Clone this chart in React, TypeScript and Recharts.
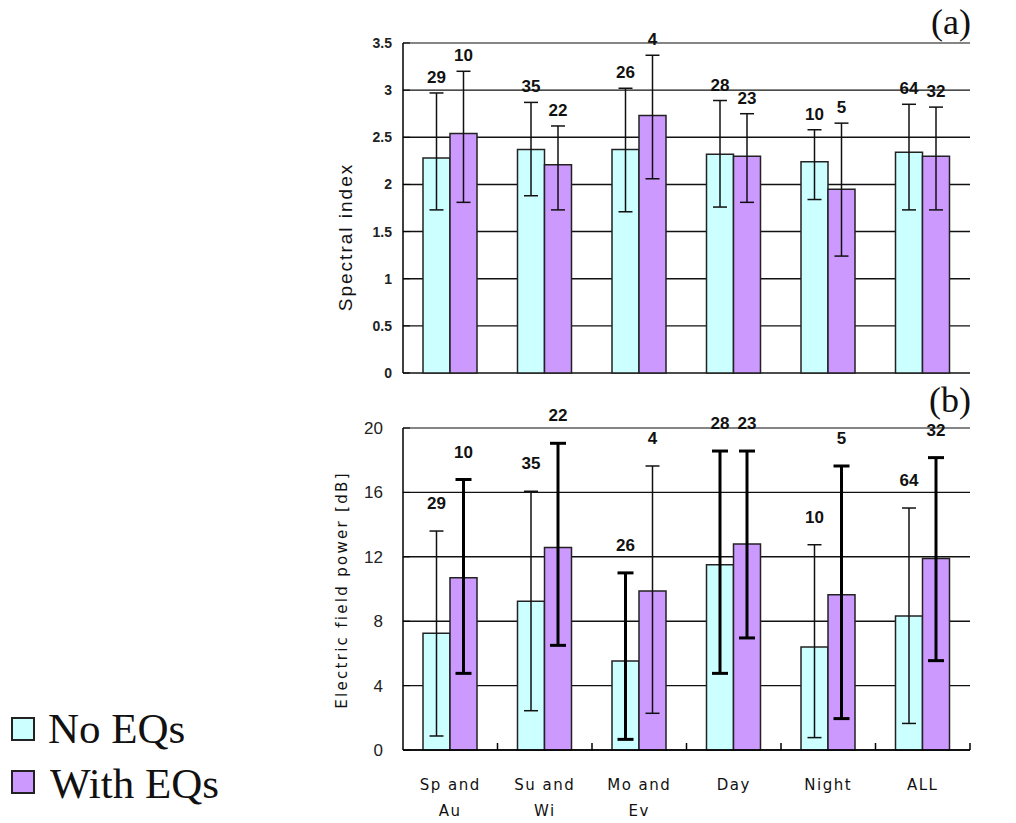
import React from 'react';
import {
  BarChart,
  Bar,
  XAxis,
  YAxis,
  CartesianGrid,
  ErrorBar,
  LabelList,
  ReferenceLine,
} from 'recharts';

const categories = ['Sp and\nAu', 'Su and\nWi', 'Mo and\nEv', 'Day', 'Night', 'ALL'];

// number of events per group
const countNo = [29, 35, 26, 28, 10, 64];
const countWith = [10, 22, 4, 23, 5, 32];

// (a) spectral index: mean, lower and upper end of the error bar
const specNo = [2.28, 2.37, 2.37, 2.32, 2.24, 2.34];
const specNoLo = [1.73, 1.88, 1.71, 1.76, 1.84, 1.73];
const specNoHi = [2.97, 2.87, 3.02, 2.89, 2.58, 2.85];
const specWith = [2.54, 2.21, 2.73, 2.3, 1.95, 2.3];
const specWithLo = [1.81, 1.73, 2.06, 1.81, 1.24, 1.73];
const specWithHi = [3.2, 2.62, 3.37, 2.75, 2.65, 2.82];

// (b) electric field power [dB]
const powerNo = [7.25, 9.24, 5.53, 11.5, 6.4, 8.32];
const powerNoLo = [0.87, 2.44, 0.66, 4.76, 0.77, 1.65];
const powerNoHi = [13.6, 16.07, 11.0, 18.57, 12.75, 15.03];
const powerWith = [10.7, 12.57, 9.88, 12.8, 9.65, 11.9];
const powerWithLo = [4.76, 6.5, 2.28, 6.96, 1.95, 5.55];
const powerWithHi = [16.8, 19.05, 17.64, 18.57, 17.64, 18.16];

const specTicks = [0, 0.5, 1, 1.5, 2, 2.5, 3, 3.5];
const powerTicks = [0, 4, 8, 12, 16, 20];

// groups whose error bars are drawn heavy in (b)
const heavyNo = [2, 3];
const heavyWith = [0, 1, 3, 4, 5];

const CYAN = '#CCFFFF';
const PURPLE = '#CC99FF';
const SANS = '"Liberation Sans", Arial, sans-serif';
const GOTHIC = '"DejaVu Sans", sans-serif';
const SERIF = '"Liberation Serif", "Times New Roman", serif';

const CHART_W = 1016;
const LEFT = 363;
const YW = 40;
const RIGHT = 46;
const BAND = (CHART_W - LEFT - YW - RIGHT) / categories.length;

const makeRows = (no: number[], noLo: number[], noHi: number[], w: number[], wLo: number[], wHi: number[]) =>
  categories.map((name, i) => ({
    name,
    idx: i,
    no: no[i],
    with: w[i],
    noErr: [no[i] - noLo[i], noHi[i] - no[i]],
    withErr: [w[i] - wLo[i], wHi[i] - w[i]],
  }));

const specRows = makeRows(specNo, specNoLo, specNoHi, specWith, specWithLo, specWithHi);
const powerRows = makeRows(powerNo, powerNoLo, powerNoHi, powerWith, powerWithLo, powerWithHi);

// category tick: group name below the axis, short inward tick at the group's right edge
const GroupTick = ({ x, y, payload, showNames }: any) => {
  const edge = x + BAND / 2;
  const lines = String(payload.value).split('\n');
  return (
    <g>
      <line x1={edge} x2={edge} y1={y} y2={y - 7} stroke="#000" strokeWidth={1.5} />
      {showNames && (
        <text x={x} y={y + 40} textAnchor="middle" fontFamily={GOTHIC} fontSize={15} letterSpacing={1.5} fill="#111">
          {lines.map((l, k) => (
            <tspan key={k} x={x} dy={k ? 26 : 0}>
              {l}
            </tspan>
          ))}
        </text>
      )}
    </g>
  );
};

const countLabel =
  (counts: number[], vals: number[], his: number[], lift: number, weight: number) => (props: any) => {
    const vb = props.viewBox || props;
    const { x, y, width, height } = vb;
    const i = props.index;
    const base = y + height;
    const errTop = base - (his[i] * height) / vals[i];
    return (
      <text
        x={x + width / 2}
        y={errTop - lift}
        textAnchor="middle"
        fontFamily={SANS}
        fontSize={17}
        fontWeight={weight}
        fill="#111"
      >
        {counts[i]}
      </text>
    );
  };

const App = () => (
  <div style={{ position: 'absolute', left: 0, top: 0, width: 1016, height: 823, background: '#fff' }}>
    {/* (a) */}
    <div style={{ position: 'absolute', left: 0, top: 0 }}>
      <BarChart
        width={CHART_W}
        height={400}
        data={specRows}
        margin={{ top: 43, right: RIGHT, bottom: 27, left: LEFT }}
        barSize={27}
        barGap={0}
      >
        <CartesianGrid vertical={false} stroke="#111" strokeWidth={1.4} />
        <XAxis
          dataKey="name"
          interval={0}
          height={0}
          tickSize={0}
          tickMargin={0}
          tickLine={false}
          axisLine={{ stroke: '#000', strokeWidth: 1.5 }}
          tick={<GroupTick showNames={false} />}
        />
        <YAxis
          domain={[0, 3.5]}
          ticks={specTicks}
          interval={0}
          width={YW}
          tickSize={-7}
          tickMargin={18}
          tickLine={{ stroke: '#000' }}
          axisLine={{ stroke: '#000', strokeWidth: 1.5 }}
          tick={{ fontFamily: SANS, fontSize: 14, fontWeight: 700, fill: '#222' }}
        />
        <YAxis
          yAxisId="r"
          orientation="right"
          domain={[0, 3.5]}
          width={0}
          tick={false}
          tickLine={false}
          axisLine={{ stroke: '#999', strokeWidth: 1.5 }}
        />
        <ReferenceLine y={3.5} stroke="#999" strokeWidth={1.4} />
        <Bar dataKey="no" fill={CYAN} stroke="#222" strokeWidth={1.5} isAnimationActive={false}>
          <ErrorBar dataKey="noErr" width={7} stroke="#111" strokeWidth={1.5} />
          <LabelList content={countLabel(countNo, specNo, specNoHi, 10, 700)} />
        </Bar>
        <Bar dataKey="with" fill={PURPLE} stroke="#222" strokeWidth={1.5} isAnimationActive={false}>
          <ErrorBar dataKey="withErr" width={7} stroke="#111" strokeWidth={1.5} />
          <LabelList content={countLabel(countWith, specWith, specWithHi, 10, 700)} />
        </Bar>
      </BarChart>
    </div>

    {/* (b) */}
    <div style={{ position: 'absolute', left: 0, top: 400 }}>
      <BarChart
        width={CHART_W}
        height={423}
        data={powerRows}
        margin={{ top: 28, right: RIGHT, bottom: 0, left: LEFT }}
        barSize={27}
        barGap={0}
      >
        <CartesianGrid vertical={false} stroke="#111" strokeWidth={1.4} />
        <XAxis
          dataKey="name"
          interval={0}
          height={73}
          tickSize={0}
          tickMargin={0}
          tickLine={false}
          axisLine={{ stroke: '#000', strokeWidth: 1.5 }}
          tick={<GroupTick showNames />}
        />
        <YAxis
          domain={[0, 20]}
          ticks={powerTicks}
          interval={0}
          width={YW}
          tickSize={-7}
          tickMargin={27}
          tickLine={{ stroke: '#000' }}
          axisLine={{ stroke: '#000', strokeWidth: 1.5 }}
          tick={{ fontFamily: SANS, fontSize: 17, fill: '#222' }}
        />
        <YAxis
          yAxisId="r"
          orientation="right"
          domain={[0, 20]}
          width={0}
          tick={false}
          tickLine={false}
          axisLine={{ stroke: '#999', strokeWidth: 1.5 }}
        />
        <ReferenceLine y={20} stroke="#999" strokeWidth={1.4} />
        <Bar dataKey="no" fill={CYAN} stroke="#222" strokeWidth={1.5} isAnimationActive={false}>
          <ErrorBar
            dataKey={(d: any) => (heavyNo.includes(d.idx) ? null : d.noErr)}
            width={7}
            stroke="#111"
            strokeWidth={1.5}
          />
          <ErrorBar
            dataKey={(d: any) => (heavyNo.includes(d.idx) ? d.noErr : null)}
            width={8}
            stroke="#000"
            strokeWidth={3}
          />
          <LabelList content={countLabel(countNo, powerNo, powerNoHi, 22, 600)} />
        </Bar>
        <Bar dataKey="with" fill={PURPLE} stroke="#222" strokeWidth={1.5} isAnimationActive={false}>
          <ErrorBar
            dataKey={(d: any) => (heavyWith.includes(d.idx) ? null : d.withErr)}
            width={7}
            stroke="#111"
            strokeWidth={1.5}
          />
          <ErrorBar
            dataKey={(d: any) => (heavyWith.includes(d.idx) ? d.withErr : null)}
            width={8}
            stroke="#000"
            strokeWidth={3}
          />
          <LabelList content={countLabel(countWith, powerWith, powerWithHi, 22, 600)} />
        </Bar>
      </BarChart>
    </div>

    {/* titles, panel letters, legend */}
    <svg width={1016} height={823} style={{ position: 'absolute', left: 0, top: 0, pointerEvents: 'none' }}>
      <text x={951} y={34} textAnchor="middle" fontFamily={SERIF} fontSize={36} fill="#111">
        (a)
      </text>
      <text x={950} y={412} textAnchor="middle" fontFamily={SERIF} fontSize={36} fill="#111">
        (b)
      </text>
      <text
        transform="translate(345,237) rotate(-90)"
        textAnchor="middle"
        dominantBaseline="central"
        fontFamily={SANS}
        fontSize={19}
        letterSpacing={2}
        fill="#111"
      >
        Spectral index
      </text>
      <text
        transform="translate(342,590) rotate(-90)"
        textAnchor="middle"
        dominantBaseline="central"
        fontFamily={GOTHIC}
        fontSize={15}
        letterSpacing={2.3}
        fill="#111"
      >
        Electric field power [dB]
      </text>
      <rect x={12} y={718} width={22} height={22} fill={CYAN} stroke="#222" strokeWidth={2} />
      <text x={48} y={743} fontFamily={SERIF} fontSize={43} fill="#111">
        No EQs
      </text>
      <rect x={12} y={771} width={22} height={22} fill={PURPLE} stroke="#222" strokeWidth={2} />
      <text x={50} y={798} fontFamily={SERIF} fontSize={43} fill="#111">
        With EQs
      </text>
    </svg>
  </div>
);

export default App;
